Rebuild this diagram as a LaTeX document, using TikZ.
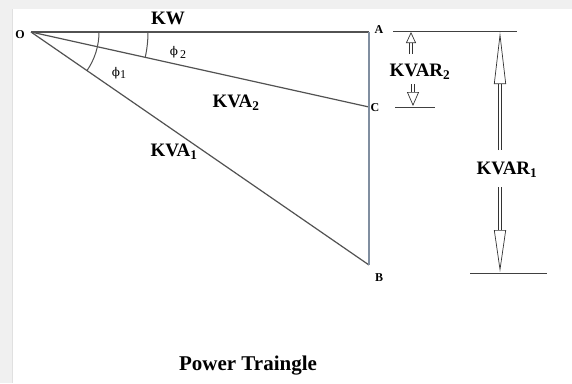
\documentclass[tikz,border=0pt]{standalone}
\usepackage{fontspec}
\setmainfont{Liberation Serif}
\newfontfamily\symfont{DejaVu Serif}
\usetikzlibrary{arrows.meta}
\definecolor{slate}{RGB}{128,142,160}

\begin{document}
\begin{tikzpicture}[
  x=1pt, y=-1pt,
  font=\bfseries,
  side/.style={draw=black!68, line width=1.2pt},
  upright/.style={draw=slate, line width=1.7pt},
  dimline/.style={draw=black!75, line width=1pt},
  hollow/.style={double=white, double distance=2.8pt, line width=0.7pt, draw=black!80,
                 -{Triangle[open, length=11pt, width=10pt]}},
  bighollow/.style={hollow, -{Triangle[open, length=52pt, width=12pt]}},
  vtx/.style={font=\bfseries\fontsize{12}{13}\selectfont, inner sep=1pt},
  qty/.style={font=\bfseries\fontsize{19}{21}\selectfont, inner sep=1pt},
  ang/.style={font=\fontsize{12}{13}\selectfont, inner sep=1pt}
]
\useasboundingbox (0,0) rectangle (572,383);
\fill[black!6] (0,0) rectangle (572,383);
\fill[white] (12,9) rectangle (572,383);
\draw[black!12, line width=1pt] (12,9) -- (12,383);

% triangle
\coordinate (O) at (31,32);
\coordinate (A) at (369,32);
\coordinate (C) at (369,107);
\coordinate (B) at (369,265);
\draw[side] (O) -- (A);
\draw[side] (O) -- (C);
\draw[side] (O) -- (B);
\draw[upright] (A) -- (B);
\draw[side, line width=1pt] (O) ++(68,0) arc[start angle=0, end angle=34.5, radius=68];
\draw[side, line width=1pt] (O) ++(117,0) arc[start angle=0, end angle=12.5, radius=117];

\node[vtx] (labO) at (20,35) {O};
\node[vtx] (labA) at (379,30) {A};
\node[vtx] (labC) at (375,108) {C};
\node[vtx] (labB) at (379,278) {B};
\node[qty] (kw) at (168,18) {KW};
\node[ang] (phitwo) at (178,52) {{\symfont ϕ}\,\raisebox{-3pt}{2}};
\node[ang] (phione) at (119,73) {{\symfont ϕ}\raisebox{-2pt}{1}};
\node[qty] (kvatwo) at (236,103) {KVA\textsubscript{2}};
\node[qty] (kvaone) at (174,152) {KVA\textsubscript{1}};

% reactive power
\coordinate (topL) at (393,31);
\coordinate (topR) at (517,31);
\coordinate (midL) at (395,107);
\coordinate (midR) at (435,107);
\coordinate (botL) at (470,273);
\coordinate (botR) at (547,273);
\draw[dimline] (topL) -- (topR);
\draw[dimline] (midL) -- (midR);
\draw[dimline] (botL) -- (botR);
\node[qty] (kvartwo) at (420,72) {KVAR\textsubscript{2}};
\node[qty] (kvarone) at (507,170) {KVAR\textsubscript{1}};
\coordinate (upS) at (411,54);
\coordinate (upT) at (411,32);
\coordinate (dnS) at (413,84);
\coordinate (dnT) at (413,106);
\coordinate (bigupS) at (500,150);
\coordinate (bigupT) at (500,32);
\coordinate (bigdnS) at (500,187);
\coordinate (bigdnT) at (500,272);
\draw[hollow] (upS) -- (upT);
\draw[hollow, -{Triangle[open, length=14pt, width=12pt]}] (dnS) -- (dnT);
\draw[bighollow] (bigupS) -- (bigupT);
\draw[bighollow, -{Triangle[open, length=42pt, width=12pt]}] (bigdnS) -- (bigdnT);

\node[qty, font=\bfseries\fontsize{21}{23}\selectfont] (title) at (248,366) {Power Traingle};
\end{tikzpicture}
\end{document}
